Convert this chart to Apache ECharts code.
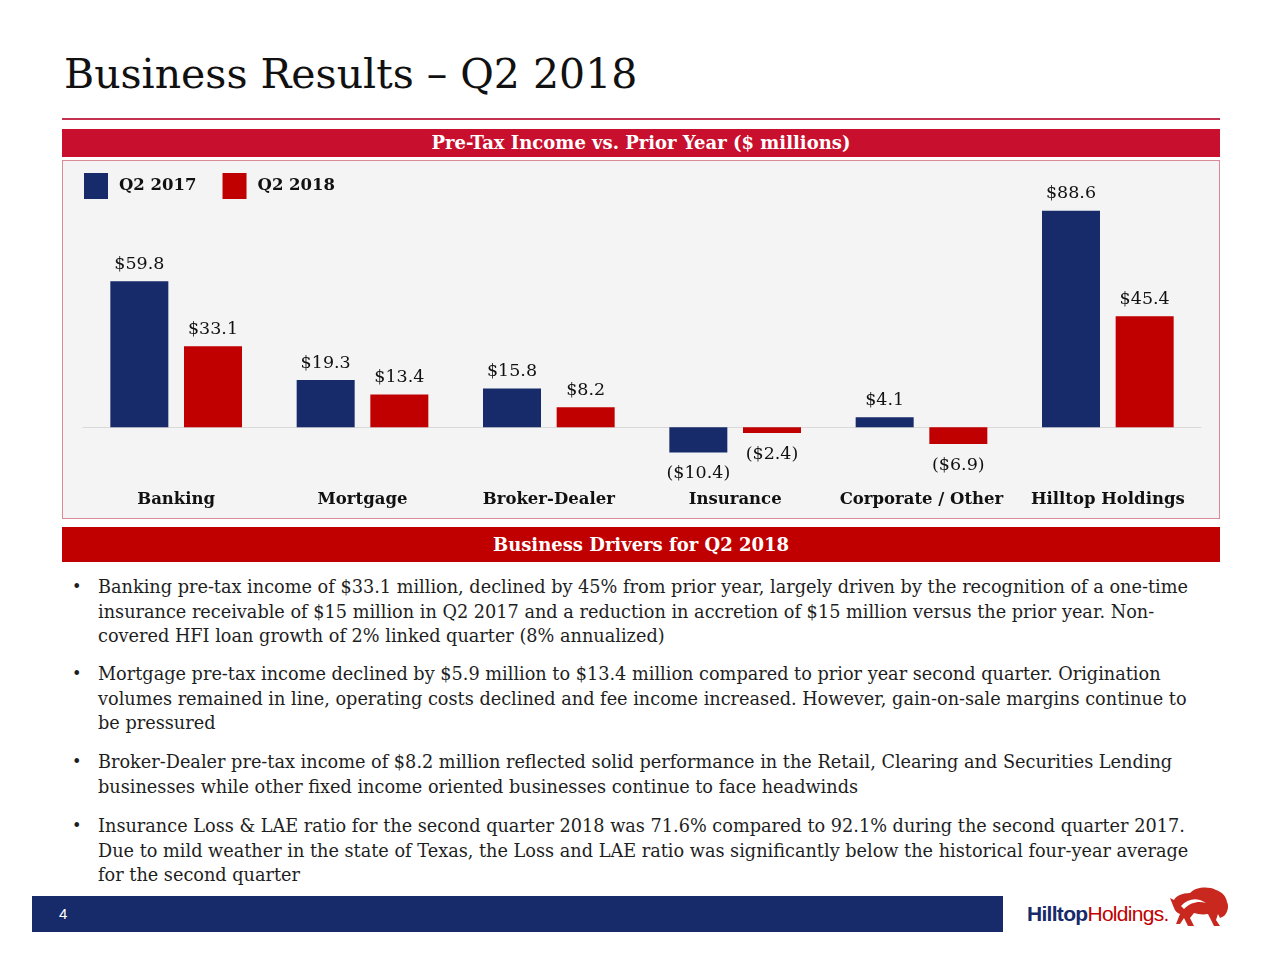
<!DOCTYPE html>
<html>
<head>
<meta charset="utf-8">
<script src="https://cdn.jsdelivr.net/npm/echarts@6/dist/echarts.min.js"></script>
<style>
  html, body { margin:0; padding:0; background:#ffffff; }
  #slide { position:relative; width:1280px; height:960px; overflow:hidden; font-family:"DejaVu Serif", Georgia, serif; color:#222; }
  .abs { position:absolute; }
  #title { left:64px; top:50px; font-family:"DejaVu Serif", serif; font-size:41px; color:#111; white-space:nowrap; }
  #rule { left:62px; top:118px; width:1158px; height:2px; background:#c43250; }
  .bar { left:62px; width:1158px; color:#fff; font-weight:bold; text-align:center; font-size:18px; }
  #hdr1 { top:129px; height:28px; line-height:28px; background:#c8102e; }
  #hdr2 { top:527px; height:35px; line-height:36px; background:#c00000; }
  #panel { left:62px; top:160px; width:1156px; height:357px; background:#f4f4f4; border:1px solid #d98a96; }
  #chart { left:62px; top:160px; width:1158px; height:358px; }
  .ln { left:98px; font-size:17.7px; white-space:nowrap; line-height:24px; color:#1e1e1e; }
  .bul { left:72px; font-size:16px; line-height:24px; color:#1e1e1e; }
  #footer { left:32px; top:896px; width:971px; height:36px; background:#172b6a; }
  #pg { left:59px; top:905px; color:#fff; font-family:"Liberation Sans", Arial, sans-serif; font-size:15px; }
  #logo { left:1027px; top:902px; font-family:"Liberation Sans Narrow","Liberation Sans",Arial,sans-serif; font-size:21px; letter-spacing:-0.7px; white-space:nowrap; }
</style>
</head>
<body>
<div id="slide">
  <div id="title" class="abs">Business Results – Q2 2018</div>
  <div id="rule" class="abs"></div>
  <div id="hdr1" class="abs bar">Pre-Tax Income vs. Prior Year ($ millions)</div>
  <div id="panel" class="abs"></div>
  <div id="chart" class="abs"></div>
  <div id="hdr2" class="abs bar">Business Drivers for Q2 2018</div>
  <div id="bullets"></div>
  <div id="footer" class="abs"></div>
  <div id="pg" class="abs">4</div>
  <div id="logo" class="abs"><span style="color:#172b6a;font-weight:bold">Hilltop</span><span style="color:#c00000">Holdings.</span></div>
  <svg class="abs" style="left:1168px;top:884px" width="64" height="44" viewBox="0 0 64 44">
    <path fill="#c8281e" d="M6 24 L2 14 L6 16 C8 12 14 9 22 9 C28 3 40 2 48 6 C54 8 58 12 59 18 C61 22 60 28 56 32 L52 34 L50 30 L48 36 L52 42 L46 42 L42 34 L40 30 C34 31 30 30 26 29 L22 34 L26 42 L20 42 L16 34 L12 40 L8 40 L12 30 C9 29 7 27 6 24 Z"/>
    <path fill="#ffffff" d="M13 22 C20 14 30 13 38 19 C31 17 23 18 16 25 Z"/>
  </svg>
</div>
<script>
// ---- data ----
const categories = ["Banking", "Mortgage", "Broker-Dealer", "Insurance", "Corporate / Other", "Hilltop Holdings"];
const seriesNames = ["Q2 2017", "Q2 2018"];
const q2_2017 = [59.8, 19.3, 15.8, -10.4, 4.1, 88.6];
const q2_2018 = [33.1, 13.4, 8.2, -2.4, -6.9, 45.4];

const bulletParas = [
  ["Banking pre-tax income of $33.1 million, declined by 45% from prior year, largely driven by the recognition of a one-time",
   "insurance receivable of $15 million in Q2 2017 and a reduction in accretion of $15 million versus the prior year.  Non-",
   "covered HFI loan growth of 2% linked quarter (8% annualized)"],
  ["Mortgage pre-tax income declined by $5.9 million to $13.4 million compared to prior year second quarter. Origination",
   "volumes remained in line, operating costs declined and fee income increased.  However, gain-on-sale margins continue to",
   "be pressured"],
  ["Broker-Dealer pre-tax income of $8.2 million reflected solid performance in the Retail, Clearing and Securities Lending",
   "businesses while other fixed income oriented businesses continue to face headwinds"],
  ["Insurance Loss & LAE ratio for the second quarter 2018 was 71.6% compared to 92.1% during the second quarter 2017.",
   "Due to mild weather in the state of Texas, the Loss and LAE ratio was significantly below the historical four-year average",
   "for the second quarter"]
];

// ---- bullets ----
(function(){
  const host = document.getElementById('bullets');
  const paraTops = [575, 662, 750, 814];
  const lh = 24.5;
  bulletParas.forEach((lines, p) => {
    const b = document.createElement('div');
    b.className = 'abs bul'; b.style.top = paraTops[p] + 'px'; b.textContent = '•';
    host.appendChild(b);
    lines.forEach((t, i) => {
      const d = document.createElement('div');
      d.className = 'abs ln';
      d.style.top = (paraTops[p] + i * lh) + 'px';
      d.textContent = t;
      host.appendChild(d);
    });
  });
})();

// ---- chart ----
const fmt = v => v < 0 ? '($' + Math.abs(v).toFixed(1) + ')' : '$' + v.toFixed(1);
const toItems = arr => arr.map(v => ({ value: v, label: v < 0 ? { position: 'bottom', distance: 12 } : { position: 'top', distance: 8 } }));
const colors = ['#172b6a', '#c00000'];
const labelStyle = {
  show: true,
  fontFamily: 'DejaVu Serif', fontSize: 17.5, color: '#111',
  formatter: p => fmt(p.value)
};

const chart = echarts.init(document.getElementById('chart'));
chart.setOption({
  animation: false,
  backgroundColor: 'transparent',
  color: colors,
  legend: {
    left: 22, top: 13, padding: 0,
    itemWidth: 24, itemHeight: 26, itemGap: 26,
    icon: 'rect',
    textStyle: { fontFamily: 'DejaVu Serif', fontWeight: 'bold', fontSize: 16.5, color: '#111', padding: [0, 0, 0, 6] },
    data: seriesNames
  },
  grid: { left: 21, right: 19, top: 23, bottom: 42, outerBoundsMode: 'none', containLabel: false },
  xAxis: [
    {
      type: 'category', data: categories,
      axisLine: { show: true, onZero: true, lineStyle: { color: '#d9d9d9', width: 1 } },
      axisTick: { show: false },
      axisLabel: { show: false }
    },
    {
      type: 'category', data: categories, position: 'bottom',
      axisLine: { show: false, onZero: false },
      axisTick: { show: false },
      axisLabel: { show: true, margin: 15, fontFamily: 'DejaVu Serif', fontWeight: 'bold', fontSize: 16.5, color: '#111', interval: 0 }
    }
  ],
  yAxis: { type: 'value', min: -20, max: 100, show: false, splitLine: { show: false } },
  series: [
    { name: seriesNames[0], type: 'bar', xAxisIndex: 0, data: toItems(q2_2017), barWidth: 58, barGap: '27%', itemStyle: { color: colors[0] }, label: labelStyle },
    { name: seriesNames[1], type: 'bar', xAxisIndex: 0, data: toItems(q2_2018), barWidth: 58, itemStyle: { color: colors[1] }, label: labelStyle }
  ]
});
</script>
</body>
</html>
